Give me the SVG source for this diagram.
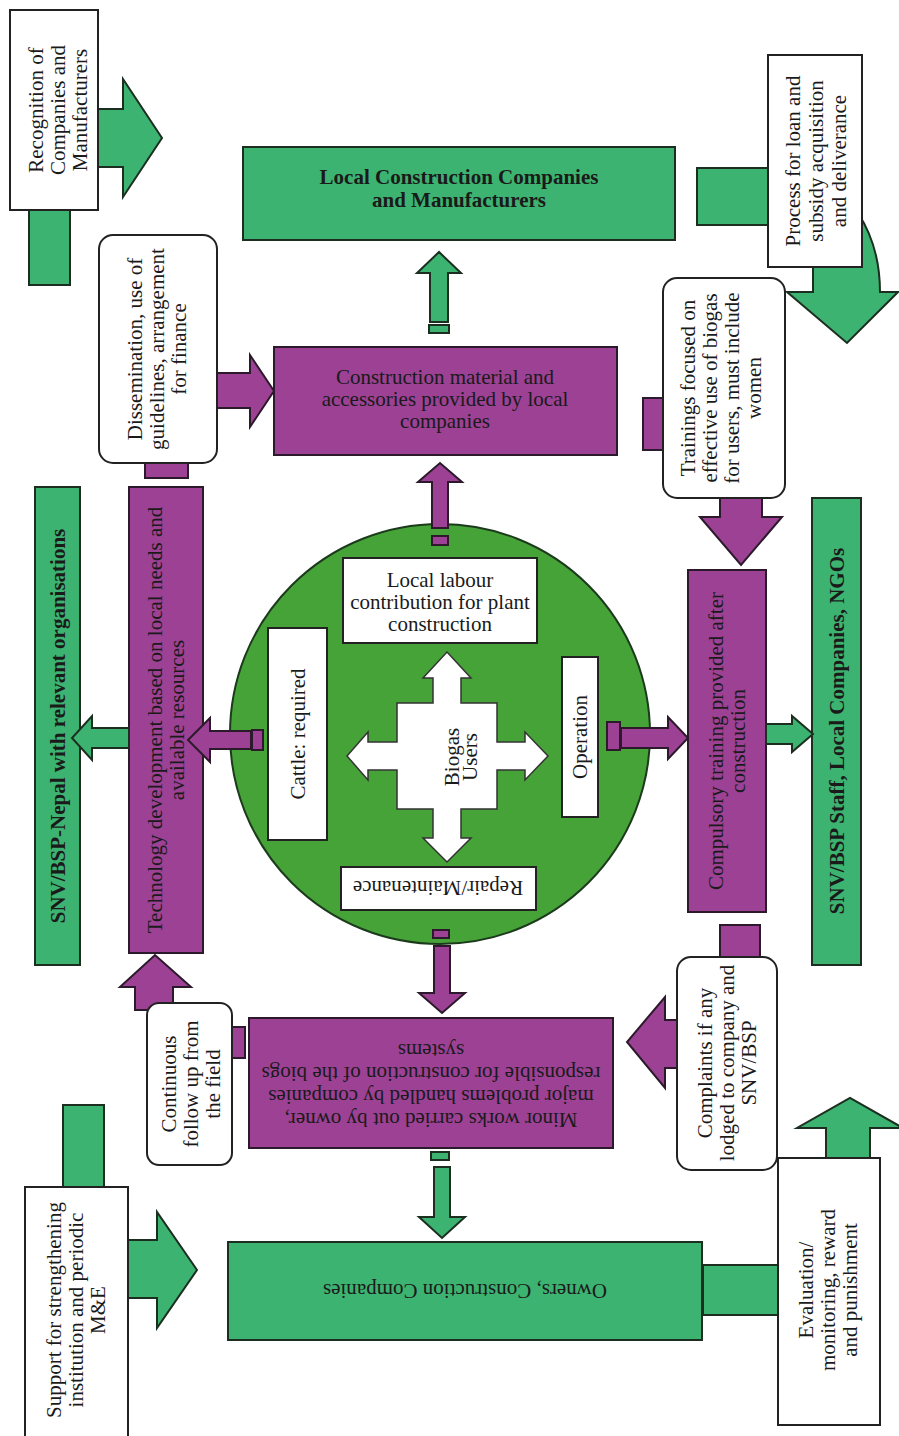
<svg xmlns="http://www.w3.org/2000/svg" width="899" height="1436" viewBox="0 0 899 1436">
<style>
.g{fill:#3db371;stroke:#1b2e1f;stroke-width:2}
.p{fill:#9c4194;stroke:#2c1a2c;stroke-width:2}
.w{fill:#fff;stroke:#222;stroke-width:2}
.c{fill:#46a338;stroke:#1c3a1c;stroke-width:2}
.t{font-family:"Liberation Serif","Times New Roman",serif;font-size:21px;fill:#1a1a1a;text-anchor:middle}
.b{font-weight:bold}
</style>
<rect width="899" height="1436" fill="#fff"/>
<g id="n-circle">
<circle class="c" cx="440" cy="734" r="210"/>
</g>
<g id="n-labour"><rect class="w" x="343" y="558" width="194" height="85"/>
<text class="t"><tspan x="440" y="587">Local labour</tspan><tspan x="440" y="609">contribution for plant</tspan><tspan x="440" y="631">construction</tspan></text></g>
<g id="n-cattle"><rect class="w" x="268" y="628" width="59" height="212"/>
<text class="t" transform="translate(298,734) rotate(-90)" y="7">Cattle: required</text></g>
<g id="n-operation"><rect class="w" x="562" y="657" width="36" height="160"/>
<text class="t" transform="translate(580,737) rotate(-90)" y="7">Operation</text></g>
<g id="n-repair"><rect class="w" x="341" y="867" width="195" height="43"/>
<text class="t" transform="translate(438,888) rotate(180)" y="7">Repair/Maintenance</text></g>
<g id="n-biogas"><polygon fill="#fff" stroke="#333" stroke-width="1.5" points="447,652 471,678 461,678 461,703 497,703 497,742 525,742 525,732 548,756 525,780 525,770 497,770 497,809 461,809 461,838 471,838 447,862 423,838 433,838 433,809 397,809 397,770 368,770 368,780 347,756 368,732 368,742 397,742 397,703 433,703 433,678 423,678"/>
<text class="t" transform="translate(452,757) rotate(-90)"><tspan x="0" y="7">Biogas</tspan><tspan x="0" y="25">Users</tspan></text></g>
<g id="n-localcc"><rect class="g" x="243" y="147" width="432" height="93"/>
<text class="t b"><tspan x="459" y="184">Local Construction Companies</tspan><tspan x="459" y="207">and Manufacturers</tspan></text></g>
<g id="n-material"><rect class="p" x="274" y="347" width="343" height="108"/>
<text class="t"><tspan x="445" y="384">Construction material and</tspan><tspan x="445" y="406">accessories provided by local</tspan><tspan x="445" y="428">companies</tspan></text></g>
<g id="n-snvnepal"><rect class="g" x="35" y="487" width="45" height="478"/>
<text class="t b" transform="translate(58,726) rotate(-90)" y="7">SNV/BSP-Nepal with relevant organisations</text></g>
<g id="n-technology"><rect class="p" x="129" y="487" width="74" height="466"/>
<text class="t" transform="translate(155,720) rotate(-90)"><tspan x="0" y="7">Technology development based on local needs and</tspan><tspan x="0" y="29">available resources</tspan></text></g>
<g id="n-compulsory"><rect class="p" x="688" y="570" width="78" height="342"/>
<text class="t" transform="translate(716,741) rotate(-90)"><tspan x="0" y="7">Compulsory training provided after</tspan><tspan x="0" y="29">construction</tspan></text></g>
<g id="n-snvstaff"><rect class="g" x="812" y="498" width="49" height="467"/>
<text class="t b" transform="translate(837,731) rotate(-90)" y="7">SNV/BSP Staff, Local Companies, NGOs</text></g>
<g id="n-minor"><rect class="p" x="249" y="1018" width="364" height="130"/>
<text class="t" transform="translate(431,1120) rotate(180)"><tspan x="0" y="7">Minor works carried out by owner,</tspan><tspan x="0" y="30">major problems handled by companies</tspan><tspan x="0" y="53">responsible for construction of the biogs</tspan><tspan x="0" y="76">systems</tspan></text></g>
<g id="n-owners"><rect class="g" x="228" y="1242" width="474" height="98"/>
<text class="t" transform="translate(465,1291) rotate(180)" y="7">Owners, Construction Companies</text></g>
<g id="connectors">
<polygon class="g" points="92,109 123,109 123,79 162,138 123,197 123,167 92,167"/>
<rect class="g" x="29" y="205" width="41" height="80"/>
<polygon class="g" points="430,322 430,273 417,273 439,252 461,273 448,273 448,322"/>
<rect class="g" x="429" y="325" width="20" height="8"/>
<polygon class="p" points="212,373 250,373 250,355 274,391 250,427 250,408 212,408"/>
<rect class="p" x="145" y="458" width="43" height="20"/>
<polygon class="p" points="432,528 432,482 418,482 440,463 462,482 448,482 448,528"/>
<rect class="p" x="432" y="536" width="16" height="9"/>
<rect class="g" x="697" y="168" width="76" height="57"/>
<path class="g" d="M813,240 L813,292 L787,292 L847,343 L898,292 L880,292 C880,262 873,236 858,213 L813,213 Z"/>
<rect class="p" x="643" y="398" width="25" height="52"/>
<polygon class="p" points="720,493 720,517 700,517 741,565 782,517 762,517 762,493"/>
<rect class="p" x="607" y="722" width="13" height="28"/>
<polygon class="p" points="621,728 668,728 668,717 688,738 668,759 668,748 621,748"/>
<polygon class="g" points="766,724 792,724 792,716 813,734 792,752 792,744 766,744"/>
<rect class="p" x="252" y="730" width="11" height="20"/>
<polygon class="p" points="251,731 210,731 210,718 188,740 210,762 210,749 251,749"/>
<polygon class="g" points="129,728 92,728 92,716 72,738 92,760 92,748 129,748"/>
<rect class="p" x="433" y="930" width="16" height="8"/>
<polygon class="p" points="434,946 434,993 419,993 442,1013 465,993 450,993 450,946"/>
<rect class="g" x="431" y="1152" width="18" height="8"/>
<polygon class="g" points="434,1167 434,1217 419,1217 442,1238 465,1217 450,1217 450,1167"/>
<rect class="p" x="720" y="925" width="40" height="37"/>
<polygon class="p" points="682,1020 665,1020 665,997 627,1042 665,1088 665,1068 682,1068"/>
<polygon class="p" points="135,1010 135,987 120,987 155,955 191,987 173,987 173,1010"/>
<rect class="p" x="227" y="1027" width="18" height="31"/>
<rect class="g" x="63" y="1105" width="41" height="87"/>
<polygon class="g" points="123,1240 157,1240 157,1212 197,1270 157,1328 157,1298 123,1298"/>
<rect class="g" x="703" y="1265" width="80" height="50"/>
<polygon class="g" points="826,1163 826,1128 797,1128 850,1098 903,1128 870,1128 870,1163"/>
</g>
<g id="n-recognition"><rect class="w" x="10" y="10" width="88" height="200"/>
<text class="t" transform="translate(36,110) rotate(-90)"><tspan x="0" y="7">Recognition of</tspan><tspan x="0" y="29">Companies and</tspan><tspan x="0" y="51">Manufacturers</tspan></text></g>
<g id="n-process"><rect class="w" x="768" y="55" width="94" height="212"/>
<text class="t" transform="translate(793,161) rotate(-90)"><tspan x="0" y="7">Process for loan and</tspan><tspan x="0" y="30">subsidy acquisition</tspan><tspan x="0" y="53">and deliverance</tspan></text></g>
<g id="n-dissemination"><rect class="w" x="99" y="235" width="118" height="228" rx="14"/>
<text class="t" transform="translate(135,349) rotate(-90)"><tspan x="0" y="7">Dissemination, use of</tspan><tspan x="0" y="29">guidelines, arrangement</tspan><tspan x="0" y="51">for finance</tspan></text></g>
<g id="n-trainings"><rect class="w" x="663" y="278" width="122" height="220" rx="14"/>
<text class="t" transform="translate(688,388) rotate(-90)"><tspan x="0" y="7">Trainings focused on</tspan><tspan x="0" y="29">effective use of biogas</tspan><tspan x="0" y="51">for users, must include</tspan><tspan x="0" y="73">women</tspan></text></g>
<g id="n-continuous"><rect class="w" x="147" y="1003" width="85" height="162" rx="12"/>
<text class="t" transform="translate(169,1084) rotate(-90)"><tspan x="0" y="7">Continuous</tspan><tspan x="0" y="29">follow up from</tspan><tspan x="0" y="51">the field</tspan></text></g>
<g id="n-complaints"><rect class="w" x="677" y="957" width="100" height="213" rx="14"/>
<text class="t" transform="translate(705,1063) rotate(-90)"><tspan x="0" y="7">Complaints if any</tspan><tspan x="0" y="29">lodged to company and</tspan><tspan x="0" y="51">SNV/BSP</tspan></text></g>
<g id="n-support"><rect class="w" x="25" y="1187" width="103" height="260"/>
<text class="t" transform="translate(54,1310) rotate(-90)"><tspan x="0" y="7">Support for strengthening</tspan><tspan x="0" y="29">institution and periodic</tspan><tspan x="0" y="51">M&amp;E</tspan></text></g>
<g id="n-evaluation"><rect class="w" x="778" y="1158" width="102" height="267"/>
<text class="t" transform="translate(806,1290) rotate(-90)"><tspan x="0" y="7">Evaluation/</tspan><tspan x="0" y="29">monitoring, reward</tspan><tspan x="0" y="51">and punishment</tspan></text></g>
</svg>
